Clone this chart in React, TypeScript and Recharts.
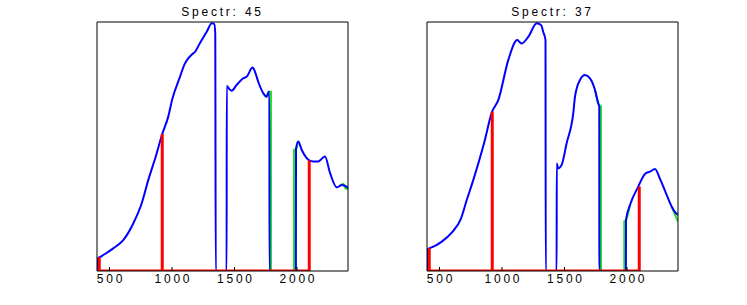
import { LineChart, Line, XAxis, YAxis } from 'recharts';

// wavelength axis
const xDomain = [400, 2408];
const xTicks = [500, 1000, 1500, 2000];

// Spectr 45 - masked spectrum (blue)
const wl45 = [400, 402, 438, 530, 610, 690, 758, 810, 870, 922, 970, 1002, 1064, 1100, 1130, 1160, 1184, 1224, 1278, 1318, 1338, 1346, 1350, 1437, 1438, 1460, 1477, 1517, 1570, 1597, 1645, 1664, 1690, 1730, 1757, 1774, 1779, 1780, 1991, 1992, 2010, 2038, 2078, 2098, 2130, 2170, 2224, 2264, 2318, 2358, 2398, 2408];
const v45 = [0, 0.048, 0.06, 0.091, 0.124, 0.191, 0.272, 0.365, 0.46, 0.55, 0.62, 0.69, 0.78, 0.83, 0.854, 0.87, 0.88, 0.916, 0.961, 0.995, 0.992, 0.956, 0, 0, 0.743, 0.73, 0.724, 0.747, 0.774, 0.78, 0.817, 0.8, 0.76, 0.714, 0.7, 0.72, 0.72, 0, 0, 0.49, 0.52, 0.486, 0.453, 0.444, 0.44, 0.44, 0.46, 0.394, 0.336, 0.345, 0.338, 0.332];

// Spectr 45 - raw spectrum edges (green, drawn under blue)
const greenWl45 = [1730, 1757, 1774, 1792, 1792, 1976, 1976, 1992, 2010, 2200, 2340, 2370, 2390, 2408];
const greenV45 = [0.714, 0.7, 0.72, 0.72, 0, 0, 0.487, 0.49, 0.52, null, 0.34, 0.35, 0.33, 0.33];

// Spectr 45 - selected bands (red)
const redWl45 = [418, 922, 2098];
const redTop45 = [0.055, 0.55, 0.444];

// Spectr 37 - masked spectrum (blue)
const wl37 = [400, 402, 418, 460, 518, 598, 670, 718, 770, 860, 918, 971, 1050, 1122, 1140, 1158, 1210, 1278, 1312, 1330, 1348, 1350, 1437, 1438, 1450, 1477, 1517, 1570, 1584, 1624, 1664, 1704, 1744, 1770, 1778, 1779, 1991, 1992, 2024, 2090, 2144, 2184, 2224, 2264, 2318, 2358, 2392, 2408];
const v37 = [0, 0.087, 0.091, 0.1, 0.118, 0.154, 0.208, 0.285, 0.365, 0.52, 0.636, 0.687, 0.847, 0.928, 0.92, 0.914, 0.94, 0.995, 0.988, 0.96, 0.928, 0, 0, 0.432, 0.412, 0.426, 0.513, 0.633, 0.7, 0.767, 0.787, 0.774, 0.727, 0.673, 0.66, 0, 0, 0.205, 0.265, 0.339, 0.39, 0.399, 0.41, 0.37, 0.305, 0.258, 0.232, 0.225];

// Spectr 37 - raw spectrum edges (green)
const greenWl37 = [1744, 1770, 1792, 1792, 1978, 1978, 1992, 2024, 2200, 2358, 2384, 2408];
const greenV37 = [0.727, 0.673, 0.66, 0, 0, 0.2, 0.205, 0.265, null, 0.258, 0.225, 0.198];

// Spectr 37 - selected bands (red)
const redWl37 = [418, 922, 2098];
const redTop37 = [0.091, 0.64, 0.339];

type Pt = { wl: number; v: number | null };

const toPoints = (wl: number[], v: (number | null)[]): Pt[] => wl.map((w, i) => ({ wl: w, v: v[i] }));

// red: baseline at 0 with a vertical stem at every selected band
const toStems = (wl: number[], top: number[]): Pt[] => {
  const pts: Pt[] = [{ wl: xDomain[0], v: 0 }];
  wl.forEach((w, i) => {
    pts.push({ wl: w, v: 0 }, { wl: w, v: top[i] });
    if (i < wl.length - 1) pts.push({ wl: w, v: 0 });
  });
  return pts;
};

const FONT = '"Liberation Sans", Arial, Helvetica, sans-serif';

const Tick = (props: any) => (
  <text
    x={props.x + 1.4}
    y={props.y + 12}
    textAnchor="middle"
    fontSize={12}
    fontFamily={FONT}
    letterSpacing={2.8}
    fill="#000"
  >
    {props.payload.value}
  </text>
);

interface PanelProps {
  title: string;
  left: number;
  blue: Pt[];
  green: Pt[];
  red: Pt[];
}

const W = 373;
const H = 305;
// axes take 1px each (a 0px axis is not drawn)
const M = { top: 21, right: 24, left: 96, bottom: 14 };

const SpectrumPanel = ({ title, left, blue, green, red }: PanelProps) => (
  <div style={{ position: 'absolute', left, top: 0, width: W, height: H }}>
    <div
      style={{
        position: 'absolute',
        left: M.left + 1,
        width: W - M.left - M.right - 2,
        top: 6,
        textAlign: 'center',
        fontFamily: FONT,
        fontSize: 12,
        lineHeight: '12px',
        letterSpacing: 2.8,
        color: '#000',
      }}
    >
      {title}
    </div>
    <LineChart width={W} height={H} margin={M}>
      <XAxis
        dataKey="wl"
        type="number"
        domain={xDomain}
        ticks={xTicks}
        allowDataOverflow
        height={20}
        tickSize={-4}
        tickMargin={4}
        tick={Tick}
        axisLine={{ stroke: '#000' }}
        tickLine={{ stroke: '#000' }}
      />
      <XAxis
        xAxisId="top"
        orientation="top"
        dataKey="wl"
        type="number"
        domain={xDomain}
        ticks={xTicks}
        allowDataOverflow
        height={1}
        tickSize={-4}
        tick={false}
        axisLine={{ stroke: '#000' }}
        tickLine={{ stroke: '#000' }}
      />
      <YAxis type="number" domain={[0, 1]} width={1} tick={false} tickLine={false} axisLine={{ stroke: '#000' }} allowDataOverflow />
      <YAxis yAxisId="r" orientation="right" type="number" domain={[0, 1]} width={1} tick={false} tickLine={false} axisLine={{ stroke: '#000' }} />
      <Line data={green} dataKey="v" type="monotone" stroke="#22e622" strokeWidth={2} dot={false} activeDot={false} isAnimationActive={false} />
      <Line data={blue} dataKey="v" type="monotone" stroke="#0000ff" strokeWidth={2} dot={false} activeDot={false} isAnimationActive={false} strokeLinejoin="round" />
      <Line data={red} dataKey="v" type="linear" stroke="#ff0000" strokeWidth={3} dot={false} activeDot={false} isAnimationActive={false} />
    </LineChart>
  </div>
);

export default function App() {
  return (
    <div style={{ position: 'absolute', left: 0, top: 0, width: 747, height: 305, background: '#fff' }}>
      <SpectrumPanel
        title="Spectr: 45"
        left={0}
        blue={toPoints(wl45, v45)}
        green={toPoints(greenWl45, greenV45)}
        red={toStems(redWl45, redTop45)}
      />
      <SpectrumPanel
        title="Spectr: 37"
        left={330}
        blue={toPoints(wl37, v37)}
        green={toPoints(greenWl37, greenV37)}
        red={toStems(redWl37, redTop37)}
      />
    </div>
  );
}
